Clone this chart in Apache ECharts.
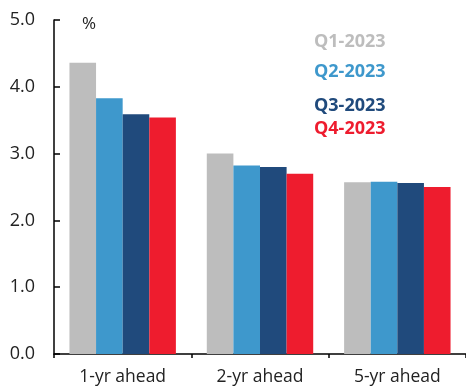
<!DOCTYPE html>
<html>
<head>
<meta charset="utf-8">
<script src="https://cdn.jsdelivr.net/npm/echarts@6/dist/echarts.min.js"></script>
<style>
  html, body { margin: 0; padding: 0; background: #fff; }
  #chart { width: 466px; height: 390px; }
</style>
</head>
<body>
<div id="chart"></div>
<script>
// Inflation expectations by horizon, quarterly survey rounds (%)
const categories = ['1-yr ahead', '2-yr ahead', '5-yr ahead'];
const seriesNames = ['Q1-2023', 'Q2-2023', 'Q3-2023', 'Q4-2023'];
const q1 = [4.36, 3.00, 2.57];
const q2 = [3.83, 2.82, 2.58];
const q3 = [3.59, 2.80, 2.56];
const q4 = [3.54, 2.70, 2.50];
const yTicks = [0, 1, 2, 3, 4, 5];

const colors = ['#bdbdbd', '#3e98cc', '#204a7c', '#ee1c2e'];
const values = [q1, q2, q3, q4];
const font = '"Open Sans", "Noto Sans", sans-serif';

const chart = echarts.init(document.getElementById('chart'));

// legend entries placed as coloured labels
const legendY = [42, 72, 106, 129];
const legendTexts = seriesNames.map((name, i) => ({
  type: 'text',
  left: 314,
  top: legendY[i] - 9,
  style: {
    text: name,
    fill: colors[i],
    font: 'bold 18px ' + font
  }
}));

chart.setOption({
  animation: false,
  grid: { left: 54, right: -3, top: 20, bottom: 36 },
  xAxis: {
    type: 'category',
    data: categories,
    axisLine: { lineStyle: { color: '#000', width: 1.5 } },
    axisTick: { show: true, length: 4, lineStyle: { color: '#000', width: 1.5 } },
    axisLabel: { color: '#222', fontSize: 17.5, fontFamily: font, margin: 14 }
  },
  yAxis: {
    type: 'value',
    min: yTicks[0],
    max: yTicks[yTicks.length - 1],
    interval: 1,
    splitLine: { show: false },
    axisLine: { show: true, lineStyle: { color: '#000', width: 1.5 } },
    axisTick: { show: true, inside: true, length: 6, lineStyle: { color: '#000', width: 1.5 } },
    axisLabel: {
      color: '#222', fontSize: 18, fontFamily: font, margin: 19,
      formatter: v => v.toFixed(1)
    }
  },
  series: seriesNames.map((name, i) => ({
    name,
    type: 'bar',
    data: values[i],
    barGap: '0%',
    barCategoryGap: '22.5%',
    itemStyle: { color: colors[i] }
  })),
  graphic: [
    {
      type: 'text',
      left: 82,
      top: 16,
      style: { text: '%', fill: '#222', font: '17px ' + font }
    },
    ...legendTexts
  ]
});
</script>
</body>
</html>
